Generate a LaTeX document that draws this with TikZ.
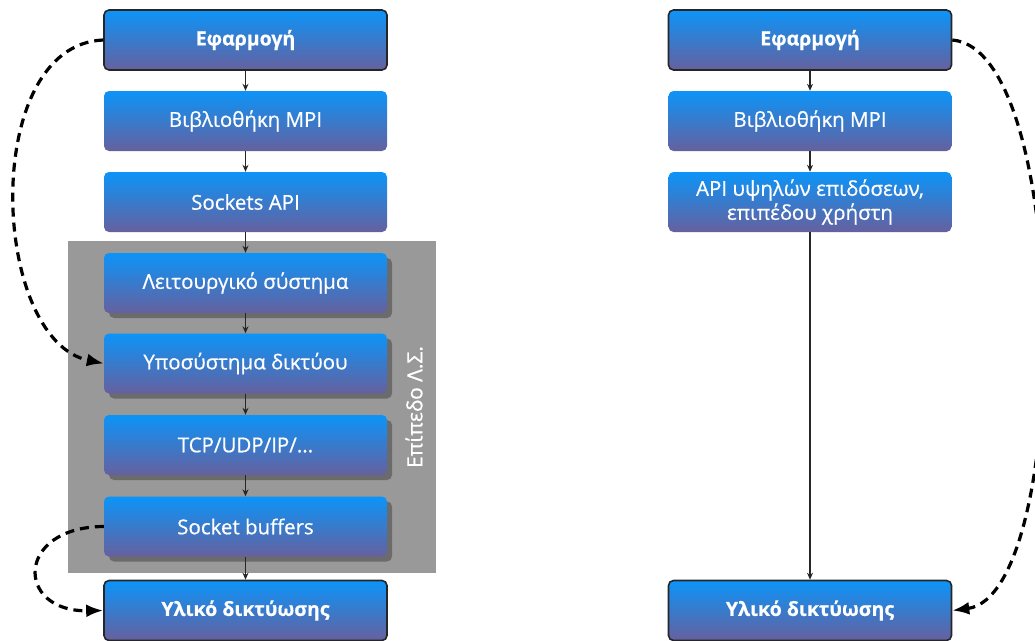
\documentclass[tikz,border=0pt]{standalone}
\usepackage{fontspec}
\setmainfont{Open Sans}[BoldFeatures={FakeBold=0.5}]
\newfontfamily\layerfont[FakeBold=0.6]{Open Sans}
\usetikzlibrary{arrows.meta,shadows}
\definecolor{layertop}{RGB}{12,148,248}
\definecolor{layerbot}{RGB}{102,96,158}
\definecolor{osgray}{RGB}{153,153,153}
\tikzset{
  layer/.style={rounded corners=5pt, minimum width=283pt, minimum height=60pt,
    inner sep=0pt, top color=layertop, bottom color=layerbot, text=white,
    align=center, font=\layerfont\fontsize{20.5}{24}\selectfont},
  endlayer/.style={layer, draw=black!85, line width=1.6pt,
    font=\fontsize{19.5}{23}\selectfont\bfseries},
  oslayer/.style={layer, drop shadow={shadow xshift=5pt, shadow yshift=-5pt,
    fill=black!58, opacity=1}},
  flow/.style={-{Stealth[length=7pt,width=6pt]}, line width=1.2pt, black!85},
  shortcut/.style={dash pattern=on 9pt off 6pt, line width=3.2pt,
    -{Latex[length=17pt,width=13pt]}}
}
\begin{document}
\begin{tikzpicture}[x=1pt,y=-1pt]
\useasboundingbox (0,0) rectangle (1035,640);

% kernel-space block
\fill[osgray] (68,241) rectangle (436,573);
\node[rotate=90, text=white, font=\layerfont\fontsize{21}{24}\selectfont] (oslabel) at (414,407) {Επίπεδο Λ.Σ.};

% classic socket stack
\node[endlayer] (app1) at (245.5,40) {Εφαρμογή};
\node[layer]    (mpi1) at (245.5,121) {Βιβλιοθήκη MPI};
\node[layer]    (sock) at (245.5,202) {Sockets API};
\node[oslayer]  (os)   at (245.5,283) {Λειτουργικό σύστημα};
\node[oslayer]  (net)  at (245.5,363.5) {Υποσύστημα δικτύου};
\node[oslayer]  (tcp)  at (245.5,445) {TCP/UDP/IP/...};
\node[oslayer]  (buf)  at (245.5,526.5) {Socket buffers};
\node[endlayer] (hw1)  at (245.5,610.5) {Υλικό δικτύωσης};

% user-level stack
\node[endlayer] (app2) at (810,40) {Εφαρμογή};
\node[layer]    (mpi2) at (810,121) {Βιβλιοθήκη MPI};
\node[layer]    (api)  at (810,202) {API υψηλών επιδόσεων,\\ επιπέδου χρήστη};
\node[endlayer] (hw2)  at (810,610.5) {Υλικό δικτύωσης};

% data path
\draw[flow] (app1) -- (mpi1);
\draw[flow] (mpi1) -- (sock);
\draw[flow] (sock) -- (os);
\draw[flow] (os) -- (net);
\draw[flow] (net) -- (tcp);
\draw[flow] (tcp) -- (buf);
\draw[flow] (buf) -- (hw1);
\draw[flow] (app2) -- (mpi2);
\draw[flow] (mpi2) -- (api);
\draw[flow] (api) -- (hw2);

% shortcuts
\draw[shortcut] (app1.west) .. controls (-20,45) and (-10,340) .. (net.west);
\draw[shortcut] (buf.west) .. controls (15,527) and (15,612) .. (hw1.west);
\draw[shortcut] (app2.east) .. controls (1072,50) and (1072,595) .. (hw2.east);
\end{tikzpicture}
\end{document}
